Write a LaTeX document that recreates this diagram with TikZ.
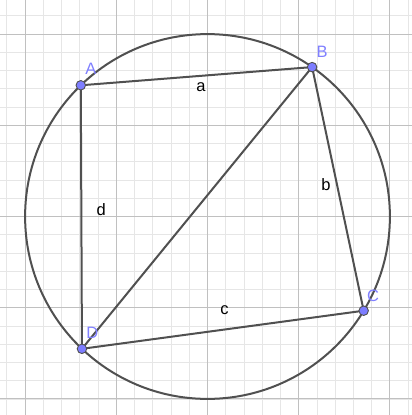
\documentclass[tikz,border=0pt]{standalone}
\usepackage{fontspec}
\setmainfont{Liberation Sans}

\definecolor{gridmajor}{HTML}{C0C0C0}
\definecolor{gridminor}{HTML}{E6E6E6}
\definecolor{linegray}{HTML}{505050}
\definecolor{ptfill}{HTML}{7D7DFF}
\definecolor{ptname}{HTML}{8080FF}

\tikzset{
  seg/.style={draw=linegray, line width=2pt},
  pt/.style={circle, draw=linegray, line width=0.9pt, fill=ptfill, minimum size=9.5pt, inner sep=0pt},
  ptlabel/.style={text=ptname, inner sep=0pt, font=\fontsize{16.5}{18}\selectfont},
  seglabel/.style={text=black, inner sep=0pt, font=\fontsize{16.5}{18}\selectfont},
}

\begin{document}
\begin{tikzpicture}[x=91.2pt,y=91.2pt]
    \useasboundingbox (-2.2752,-2.1765) rectangle (2.2423,2.3739);
    \fill[white] (-2.2752,-2.1765) rectangle (2.2423,2.3739);
    \clip (-2.2752,-2.1765) rectangle (2.2423,2.3739);
    \draw[gridminor,line width=0.8pt] (-2.4,-2.4) grid[step=0.2] (2.4,2.4);
    \draw[gridmajor,line width=0.9pt] (-3,-3) grid[step=1] (3,3);

    \coordinate (O) at (0,0);
    \coordinate (A) at (134:2);
    \coordinate (B) at (55:2);
    \coordinate (C) at (-31.1:2);
    \coordinate (D) at (226.5:2);
    \draw[seg] (O) circle[radius=2];

    \draw[seg] (A) -- (B) node[seglabel,midway,xshift=4.6pt,yshift=-11pt] (la) {a};
    \draw[seg] (B) -- (C) node[seglabel,midway,xshift=-11.9pt,yshift=3.9pt] (lb) {b};
    \draw[seg] (C) -- (D) node[seglabel,midway,xshift=1.7pt,yshift=19.8pt] (lc) {c};
    \draw[seg] (D) -- (A) node[seglabel,midway,xshift=19.8pt,yshift=7.3pt] (ld) {d};
    \draw[seg] (B) -- (D);

    \node[pt] (pA) at (A) {};
    \node[pt] (pB) at (B) {};
    \node[pt] (pC) at (C) {};
    \node[pt] (pD) at (D) {};
    \node[ptlabel,xshift=10pt,yshift=16pt] (nA) at (A) {A};
    \node[ptlabel,xshift=10pt,yshift=15.5pt] (nB) at (B) {B};
    \node[ptlabel,xshift=9.4pt,yshift=15pt] (nC) at (C) {C};
    \node[ptlabel,xshift=10.3pt,yshift=16pt] (nD) at (D) {D};
  \end{tikzpicture}
\end{document}
